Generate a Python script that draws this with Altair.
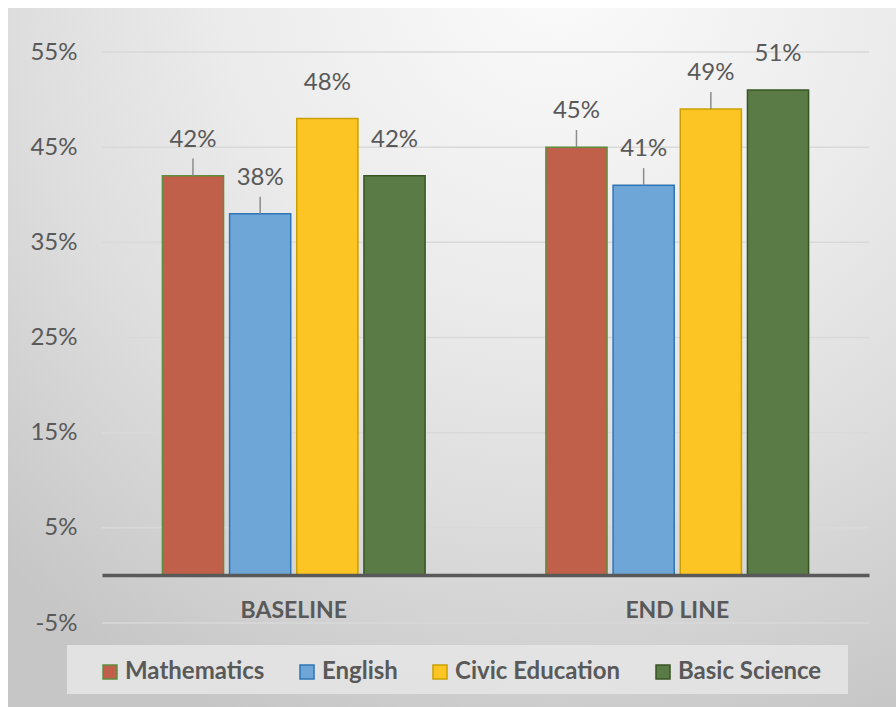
import altair as alt
import pandas as pd

phases = ["BASELINE", "END LINE"]
subjects = ["Mathematics", "English", "Civic Education", "Basic Science"]
baseline = [42, 38, 48, 42]
endline = [45, 41, 49, 51]
has_leader = [True, True, False, False, True, True, True, False]
y_ticks = [-5, 5, 15, 25, 35, 45, 55]

fill_colors = ["#C0604B", "#6FA6D8", "#FCC523", "#5A7B46"]
stroke_colors = ["#5E8E3E", "#2E75B6", "#C9A000", "#375623"]

rows = []
i = 0
for p, vals in zip(phases, [baseline, endline]):
    for s, v in zip(subjects, vals):
        rows.append({"phase": p, "subject": s, "value": v, "leader": has_leader[i]})
        i += 1
df = pd.DataFrame(rows)

W, H = 767, 571
TXT = "#595959"
FONT = "Lato"

xenc = alt.X("phase:N", sort=phases,
             scale=alt.Scale(paddingInner=0.315, paddingOuter=0.1575),
             axis=alt.Axis(title=None, orient="bottom", offset=-48, labelAngle=0,
                           ticks=False, domain=True, domainColor=TXT, domainWidth=3.5,
                           labelFont=FONT, labelFontSize=23, labelFontWeight="bold",
                           labelColor=TXT, labelPadding=24, zindex=1))
xoff = alt.XOffset("subject:N", sort=subjects,
                   scale=alt.Scale(paddingInner=0.09, paddingOuter=0))
yscale = alt.Scale(domain=[-5, 55], nice=False, zero=False)
yaxis = alt.Axis(title=None, values=y_ticks, labelExpr="datum.value + '%'",
                 grid=False, domain=False, ticks=False, labelFont=FONT,
                 labelFontSize=24, labelColor=TXT, labelPadding=25, zindex=1)

bg = alt.Chart(pd.DataFrame({"a": [0]})).mark_rect(
    fill=alt.RadialGradient(
        gradient="radial",
        stops=[alt.GradientStop(color="#fbfbfb", offset=0),
               alt.GradientStop(color="#ebebeb", offset=0.42),
               alt.GradientStop(color="#dedede", offset=0.66),
               alt.GradientStop(color="#c6c6c6", offset=1)],
        x1=0.62, y1=0.06, r1=0, x2=0.62, y2=0.06, r2=0.92),
).encode(x=alt.value(-94), x2=alt.value(794), y=alt.value(-44), y2=alt.value(655))

legend_box = alt.Chart(pd.DataFrame({"a": [0]})).mark_rect(
    fill="#e4e4e4", opacity=0.9
).encode(x=alt.value(-35), x2=alt.value(746), y=alt.value(593), y2=alt.value(642))

grid = alt.Chart(pd.DataFrame({"tick": y_ticks})).mark_rule(
    color="#d9d9d9", strokeWidth=1.5
).encode(y=alt.Y("tick:Q", scale=yscale, axis=yaxis))

legend = alt.Legend(title=None, orient="none", legendX=-4, legendY=608,
                    direction="horizontal", symbolType="square", symbolSize=196,
                    symbolStrokeWidth=1.5, labelFont=FONT, labelFontSize=24,
                    labelFontWeight="bold", labelColor=TXT, columnPadding=30,
                    labelOffset=3, labelLimit=400, padding=0)

bars = alt.Chart(df).mark_bar(strokeWidth=1.5, fillOpacity=1).encode(
    x=xenc, xOffset=xoff,
    y=alt.Y("value:Q", scale=yscale, axis=yaxis),
    fill=alt.Fill("subject:N", sort=subjects,
                  scale=alt.Scale(domain=subjects, range=fill_colors), legend=legend),
    stroke=alt.Stroke("subject:N", sort=subjects,
                      scale=alt.Scale(domain=subjects, range=stroke_colors), legend=legend),
)

leaders = alt.Chart(df).transform_filter("datum.leader").transform_calculate(
    top="datum.value + 1.8"
).mark_rule(color="#8c8c8c", strokeWidth=1.5).encode(
    x=alt.X("phase:N", sort=phases), xOffset=alt.XOffset("subject:N", sort=subjects),
    y=alt.Y("value:Q", scale=yscale, axis=yaxis), y2="top:Q",
)

labels = alt.Chart(df).transform_calculate(
    label="datum.value + '%'"
).mark_text(font=FONT, fontSize=24, color=TXT, dy=-36, baseline="middle").encode(
    x=alt.X("phase:N", sort=phases), xOffset=alt.XOffset("subject:N", sort=subjects),
    y=alt.Y("value:Q", scale=yscale, axis=yaxis), text="label:N",
)

chart = alt.layer(bg, legend_box, grid, bars, leaders, labels).properties(
    width=W, height=H,
    autosize=alt.AutoSizeParams(type="none"),
    padding={"left": 102, "top": 52, "right": 27, "bottom": 84},
    background="white",
).configure_view(stroke=None)

chart.save("out.html", embed_options={"renderer": "svg", "actions": False})
